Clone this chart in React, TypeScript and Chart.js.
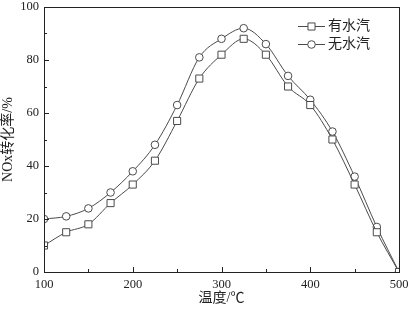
import React, { useEffect, useRef } from "react";
import { Chart, registerables } from "chart.js";

Chart.register(...registerables);

const temperatures = [100, 125, 150, 175, 200, 225, 250, 275, 300, 325, 350, 375, 400, 425, 450, 475, 500];
const withWater = [10, 15, 18, 26, 33, 42, 57, 73, 82, 88, 82, 70, 63, 50, 33, 15, 0];
const withoutWater = [20, 21, 24, 30, 38, 48, 63, 81, 88, 92, 86, 74, 65, 53, 36, 17, 0];
const seriesNames = ["有水汽", "无水汽"];
const xTitle = "温度/℃";
const yTitle = "NOx转化率/%";

const FONT = "'Liberation Serif', 'Times New Roman', 'Noto Sans CJK SC', serif";
const LINE = "#4a4a4a";
const AXIS = "#222";

const framePlugin = {
  id: "frame",
  afterDraw(chart: any) {
    const { ctx, chartArea } = chart;
    const { left, right, top, bottom } = chartArea;
    const xs = chart.scales.x;
    const ys = chart.scales.y;
    ctx.save();
    ctx.strokeStyle = AXIS;
    ctx.lineWidth = 1;
    ctx.strokeRect(Math.round(left) + 0.5, Math.round(top) + 0.5, Math.round(right - left), Math.round(bottom - top));
    ctx.beginPath();
    for (let v = 100; v <= 500; v += 50) {
      const px = Math.round(xs.getPixelForValue(v)) + 0.5;
      const len = v % 100 === 0 ? 5 : 3;
      ctx.moveTo(px, bottom);
      ctx.lineTo(px, bottom - len);
    }
    for (let v = 0; v <= 100; v += 10) {
      const py = Math.round(ys.getPixelForValue(v)) + 0.5;
      const len = v % 20 === 0 ? 5 : 3;
      ctx.moveTo(left, py);
      ctx.lineTo(left + len, py);
    }
    ctx.stroke();

    // legend
    const lx0 = 298;
    const lx1 = 325;
    chart.data.datasets.forEach((ds: any, i: number) => {
      const y = Math.round(26 + i * 17.5) + 0.5;
      ctx.strokeStyle = LINE;
      ctx.lineWidth = 1;
      ctx.beginPath();
      ctx.moveTo(lx0, y);
      ctx.lineTo(lx1, y);
      ctx.stroke();
      const cx = (lx0 + lx1) / 2;
      ctx.fillStyle = "#fff";
      ctx.beginPath();
      if (ds.pointStyle === "rect") {
        const s = ds.pointRadius * Math.SQRT1_2;
        ctx.rect(cx - s, y - s, 2 * s, 2 * s);
      } else {
        ctx.arc(cx, y, ds.pointRadius, 0, Math.PI * 2);
      }
      ctx.fill();
      ctx.stroke();
      ctx.fillStyle = "#222";
      ctx.font = `14px ${FONT}`;
      ctx.textBaseline = "middle";
      ctx.textAlign = "left";
      ctx.fillText(ds.label, 328, y);
    });
    ctx.restore();
  },
};

export default function App() {
  const ref = useRef<HTMLCanvasElement>(null);
  useEffect(() => {
    document.body.style.margin = "0";
    const canvas = ref.current!;
    const chart = new Chart(canvas, {
      type: "line",
      data: {
        datasets: [
          {
            label: seriesNames[0],
            data: temperatures.map((t, i) => ({ x: t, y: withWater[i] })),
            borderColor: LINE,
            borderWidth: 1,
            backgroundColor: "#fff",
            pointStyle: "rect",
            pointRadius: 5,
            pointBorderColor: LINE,
            pointBackgroundColor: "#fff",
            pointBorderWidth: 1,
            tension: 0.4,
            cubicInterpolationMode: "monotone",
          },
          {
            label: seriesNames[1],
            data: temperatures.map((t, i) => ({ x: t, y: withoutWater[i] })),
            borderColor: LINE,
            borderWidth: 1,
            backgroundColor: "#fff",
            pointStyle: "circle",
            pointRadius: 3.8,
            pointBorderColor: LINE,
            pointBackgroundColor: "#fff",
            pointBorderWidth: 1,
            tension: 0.4,
            cubicInterpolationMode: "monotone",
          },
        ],
      },
      options: {
        animation: false,
        responsive: false,
        events: [],
        layout: { padding: { left: 0, right: 9, top: 7, bottom: 3 } },
        plugins: { legend: { display: false }, tooltip: { enabled: false } },
        scales: {
          x: {
            type: "linear",
            min: 100,
            max: 500,
            grid: { display: false, drawTicks: false },
            border: { display: false },
            ticks: { stepSize: 100, padding: 5, color: "#222", font: { family: FONT, size: 12.5 }, maxRotation: 0 },
            title: { display: true, text: xTitle, color: "#222", font: { family: FONT, size: 14 }, padding: 0 },
            afterFit: (s: any) => { s.height = 35; s.paddingLeft = 0; s.paddingRight = 0; },
          },
          y: {
            min: 0,
            max: 100,
            grid: { display: false, drawTicks: false },
            border: { display: false },
            ticks: { stepSize: 20, padding: 5, color: "#222", font: { family: FONT, size: 12.5 } },
            title: { display: true, text: yTitle, color: "#222", font: { family: FONT, size: 14 }, padding: 0 },
            afterFit: (s: any) => { s.width = 44; s.paddingTop = 0; s.paddingBottom = 0; },
          },
        },
      },
      plugins: [framePlugin],
    } as any);
    return () => chart.destroy();
  }, []);
  return (
    <div style={{ position: "absolute", left: 0, top: 0, width: 408, height: 310, background: "#fff" }}>
      <canvas ref={ref} width={408} height={310} style={{ width: 408, height: 310 }} />
    </div>
  );
}
